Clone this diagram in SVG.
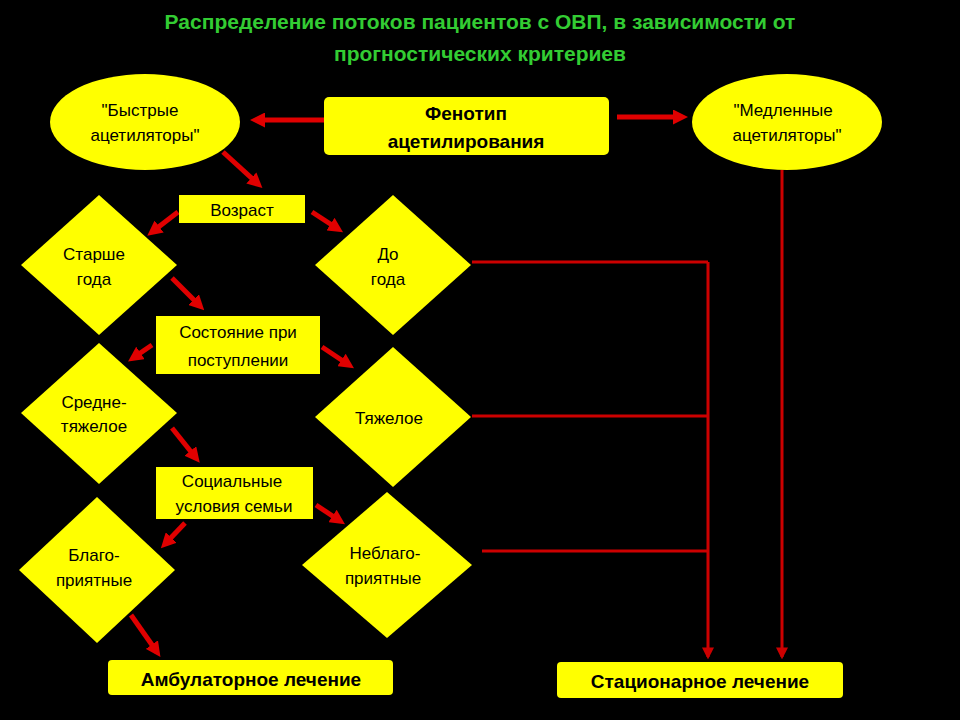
<svg xmlns="http://www.w3.org/2000/svg" width="960" height="720" viewBox="0 0 960 720">
<defs>
<style>
.n{fill:#ffff00}
.t{font-family:"Liberation Sans",Arial,sans-serif;font-size:17px;fill:#000;text-anchor:middle}
.b{font-weight:bold;font-size:19px}
.thick{stroke:#e00000;stroke-width:5;fill:none}
.thin{stroke:#cc0000;stroke-width:3;fill:none}
</style>
<marker id="ah" viewBox="0 0 10 10" refX="6" refY="5" markerWidth="3" markerHeight="3" orient="auto"><path d="M0,0L10,5L0,10z" fill="#e00000"/></marker>
<marker id="as" viewBox="0 0 10 10" refX="8" refY="5" markerWidth="4" markerHeight="4" orient="auto"><path d="M0,0L10,5L0,10z" fill="#cc0000"/></marker>
</defs>
<rect width="960" height="720" fill="#000"/>
<g id="title" font-family="Liberation Sans,Arial,sans-serif" font-weight="bold" font-size="21" fill="#33cc33" text-anchor="middle">
<text x="480" y="29">Распределение потоков пациентов с ОВП, в зависимости от</text>
<text x="480" y="61">прогностических критериев</text>
</g>
<g id="connectors">
<path class="thick" d="M324,120H256" marker-end="url(#ah)"/>
<path class="thick" d="M617,117H682" marker-end="url(#ah)"/>
<path class="thick" d="M223,152L258,184" marker-end="url(#ah)"/>
<path class="thick" d="M178,212L152,232" marker-end="url(#ah)"/>
<path class="thick" d="M312,212L338,229" marker-end="url(#ah)"/>
<path class="thick" d="M172,278L200,306" marker-end="url(#ah)"/>
<path class="thick" d="M152,345L133,358" marker-end="url(#ah)"/>
<path class="thick" d="M322,347L349,365" marker-end="url(#ah)"/>
<path class="thick" d="M172,428L196,458" marker-end="url(#ah)"/>
<path class="thick" d="M185,523L165,544" marker-end="url(#ah)"/>
<path class="thick" d="M316,505L340,521" marker-end="url(#ah)"/>
<path class="thick" d="M131,615L157,652" marker-end="url(#ah)"/>
<path class="thin" d="M472,262H708M472,416H708M482,551H708"/>
<path class="thin" d="M708,262V657" marker-end="url(#as)"/>
<path class="thin" d="M782,170V657" marker-end="url(#as)"/>
</g>
<g id="fast"><ellipse class="n" cx="145" cy="122" rx="95" ry="48"/><text class="t" x="140" y="116">"Быстрые</text><text class="t" x="145" y="141">ацетиляторы"</text></g>
<g id="slow"><ellipse class="n" cx="787" cy="122" rx="95" ry="48"/><text class="t" x="783" y="116">"Медленные</text><text class="t" x="787" y="141">ацетиляторы"</text></g>
<g id="pheno"><rect class="n" x="324" y="97" width="285" height="58" rx="5"/><text class="t b" x="466" y="120">Фенотип</text><text class="t b" x="466" y="148">ацетилирования</text></g>
<g id="age"><rect class="n" x="179" y="195" width="126" height="28"/><text class="t" x="242" y="216">Возраст</text></g>
<g id="older"><path class="n" d="M99,195L177,265L99,335L21,265z"/><text class="t" x="94" y="260">Старше</text><text class="t" x="94" y="285">года</text></g>
<g id="under"><path class="n" d="M393,195L471,265L393,335L315,265z"/><text class="t" x="388" y="260">До</text><text class="t" x="388" y="285">года</text></g>
<g id="state"><rect class="n" x="156" y="316" width="164" height="58"/><text class="t" x="238" y="338">Состояние при</text><text class="t" x="238" y="366">поступлении</text></g>
<g id="mid"><path class="n" d="M99,343L177,413L99,484L21,413z"/><text class="t" x="94" y="408">Средне-</text><text class="t" x="94" y="432">тяжелое</text></g>
<g id="heavy"><path class="n" d="M393,347L471,417L393,487L315,417z"/><text class="t" x="389" y="424">Тяжелое</text></g>
<g id="social"><rect class="n" x="156" y="467" width="157" height="52"/><text class="t" x="232" y="487">Социальные</text><text class="t" x="234" y="512">условия семьи</text></g>
<g id="fav"><path class="n" d="M97,497L175,570L97,643L19,570z"/><text class="t" x="94" y="561">Благо-</text><text class="t" x="94" y="586">приятные</text></g>
<g id="unfav"><path class="n" d="M387,492L472,565L387,638L302,565z"/><text class="t" x="385" y="559">Неблаго-</text><text class="t" x="383" y="584">приятные</text></g>
<g id="amb"><rect class="n" x="108" y="660" width="285" height="35" rx="4"/><text class="t b" x="251" y="686">Амбулаторное лечение</text></g>
<g id="stat"><rect class="n" x="557" y="662" width="286" height="36" rx="4"/><text class="t b" x="700" y="688">Стационарное лечение</text></g>
</svg>
